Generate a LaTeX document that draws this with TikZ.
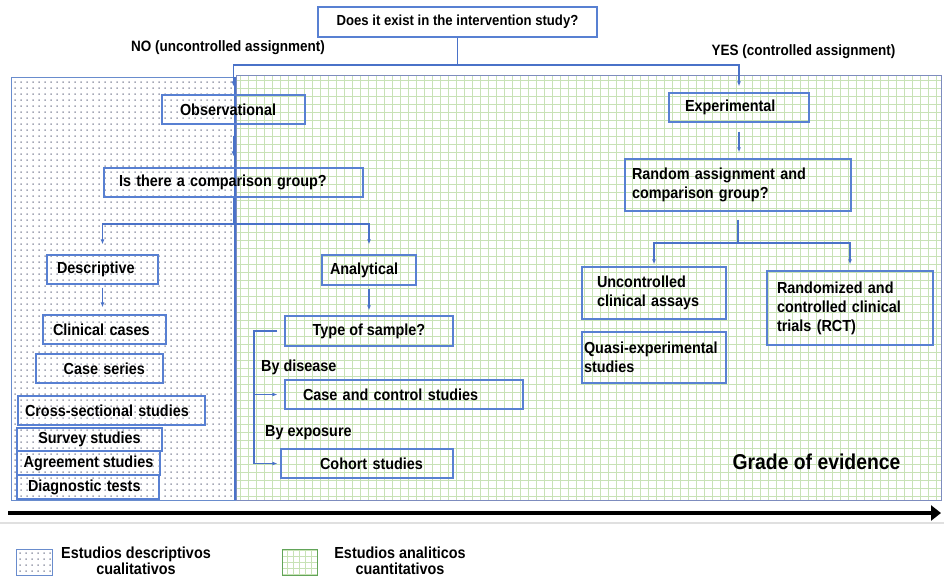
\documentclass[tikz,border=0pt]{standalone}
\usepackage{fontspec}
\setmainfont{Liberation Sans}[FakeStretch=0.9]
\usetikzlibrary{arrows.meta}
\definecolor{boxblue}{RGB}{88,128,210}
\definecolor{lineblue}{RGB}{74,114,200}
\definecolor{regblue}{RGB}{105,140,205}
\definecolor{reggreen}{RGB}{125,140,190}
\definecolor{gridgreen}{RGB}{200,226,182}
\definecolor{dotgray}{RGB}{165,168,182}
\newcommand\fsbox{\fontsize{16}{19.5}\selectfont\bfseries}
\newcommand\fstop{\fontsize{14.6}{18}\selectfont\bfseries}
\newcommand\fslab{\fontsize{15}{18}\selectfont\bfseries}
\newcommand\fsleg{\fontsize{16}{16}\selectfont\bfseries}
\newcommand\fsgrade{\fontsize{21.5}{24}\selectfont\bfseries}
\tikzset{
  box/.style={draw=boxblue, line width=1.25pt, inner ysep=0pt, inner xsep=0pt, font=\fsbox},
  lab/.style={inner sep=0pt, font=\fslab},
  sublab/.style={inner sep=0pt, font=\fsbox, anchor=west},
  conn/.style={draw=lineblue, line width=1.1pt},
  arr/.style={conn, -{Latex[length=5pt,width=4pt]}},
}
\begin{document}
\begin{tikzpicture}[x=1pt,y=-1pt]
\useasboundingbox (0,0) rectangle (944,579);
% regions
\fill[dotgray] \foreach \x in {15,21,...,231} {\foreach \y in {82,88,...,496} {(\x-0.75,\y-0.75) rectangle (\x+0.75,\y+0.75)}};
\begin{scope}
\clip (236,75) rectangle (941,500);
\draw[gridgreen, line width=0.55pt, step=8pt] (236,75) grid (941,500);
\end{scope}
\draw[reggreen, line width=1pt] (236,75) rectangle (941,500);
\draw[regblue, line width=1pt] (11,77) rectangle (235,500);
\draw[lineblue, line width=1.4pt] (235,77) -- (235,500);

% boxes
\node[box, font=\fstop, minimum width=279pt, minimum height=30pt] (top) at (457.5,22) {Does it exist in the intervention study?};
\node[lab] (no) at (228,48) {NO (uncontrolled assignment)};
\node[lab] (yes) at (803.5,52) {YES (controlled assignment)};

\node[box, align=left, inner xsep=18pt, text width=107pt, minimum height=29pt] (obs) at (233.5,109.5) {Observational};
\node[box, align=left, inner xsep=15pt, text width=229pt, minimum height=29pt] (comp) at (233.5,182.5) {Is there a comparison group?};

\node[box, align=left, inner xsep=10pt, text width=91pt, minimum height=29pt] (desc) at (102.5,269.5) {Descriptive};
\node[box, align=left, inner xsep=10pt, text width=103pt, minimum height=29pt] (clin) at (104.5,329.5) {Clinical cases};
\node[box, align=right, inner xsep=18pt, text width=91pt, minimum height=29pt] (cser) at (99.5,368.5) {Case series};
\node[box, align=left, inner xsep=7pt, text width=173pt, minimum height=29pt] (cross) at (111.5,410.5) {Cross-sectional studies};
\node[box, minimum width=145pt, minimum height=23pt] (surv) at (89.5,439.5) {Survey studies};
\node[box, minimum width=143pt, minimum height=24pt] (agree) at (88.5,463) {Agreement studies};
\node[box, align=left, inner xsep=11pt, text width=120pt, minimum height=24pt] (diag) at (88,487) {Diagnostic tests};

\node[box, align=left, inner xsep=8pt, text width=78pt, minimum height=30pt] (anal) at (369,270) {Analytical};
\node[box, minimum width=168pt, minimum height=30pt] (type) at (369,331) {Type of sample?};
\node[box, align=left, inner xsep=18pt, text width=202pt, minimum height=29pt] (cc) at (404,394.5) {Case and control studies};
\node[box, align=right, inner xsep=30pt, text width=112pt, minimum height=29pt] (coh) at (367,463.5) {Cohort studies};
\node[sublab] (bydis) at (261,367) {By disease};
\node[sublab] (byexp) at (265,433) {By exposure};

\node[box, align=left, inner xsep=16pt, text width=108pt, minimum height=29pt] (exp) at (739,107.5) {Experimental};
\node[box, align=left, inner xsep=7pt, text width=212pt, minimum height=52pt] (rand) at (738,185) {Random assignment and\\comparison group?};
\node[box, align=left, inner xsep=15pt, text width=114pt, minimum height=52pt] (unc) at (654,293) {Uncontrolled\\clinical assays};
\node[box, align=left, inner xsep=2pt, text width=140pt, minimum height=51pt] (quasi) at (654,357.5) {\mbox{Quasi-experimental}\\studies};
\node[box, align=left, inner xsep=10pt, text width=146pt, minimum height=74pt, font=\fontsize{16}{19}\selectfont\bfseries] (rct) at (850,308) {Randomized and\\controlled clinical\\trials (RCT)};

\node[inner sep=0pt, font=\fsgrade] (grade) at (816.5,462) {Grade of evidence};

% connectors
\coordinate (jn) at (457.5,65);
\draw[conn] (top.south) -- (jn);
\draw[arr, shorten >=8pt] (jn) -| (obs.north);
\draw[arr, shorten >=6pt] (jn) -| (exp.north);
\draw[arr, shorten <=11pt, shorten >=11pt] (obs.south) -- (obs.south |- comp.north);

\coordinate (cj) at (233.5,224);
\draw[conn] (comp.south) -- (cj);
\draw[arr, shorten >=10pt] (cj) -| (desc.north);
\draw[arr, shorten >=10pt] (cj) -| (anal.north);
\draw[arr, shorten <=3pt, shorten >=7pt] (desc.south) -- (desc.south |- clin.north);
\draw[arr, shorten <=3pt, shorten >=5pt] (anal.south) -- (anal.south |- type.north);

\coordinate (bx) at (254,331);
\draw[conn] ([xshift=-7pt]type.west) -| (bx |- coh.west);
\draw[arr, shorten >=7pt] (bx |- cc.west) -- (cc.west);
\draw[arr, shorten >=3pt] (bx |- coh.west) -- (coh.west);

\draw[arr, shorten <=9pt, shorten >=6pt] (exp.south) -- (exp.south |- rand.north);
\coordinate (rj) at (738,243);
\draw[conn, shorten <=8pt] (rand.south) -- (rj);
\draw[arr, shorten >=2pt] (rj) -| (unc.north);
\draw[arr, shorten >=6pt] (rj) -| (rct.north);

% grade arrow
\coordinate (ga) at (8,513);
\coordinate (gb) at (941,513);
\draw[line width=4pt, -{Triangle[length=10pt,width=15pt]}] (ga) -- (gb);
\draw[black!12, line width=1.5pt] (0,523) -- (944,523);

% legend
\node[draw=regblue, line width=1pt, minimum width=36pt, minimum height=26pt, inner sep=0pt,
  path picture={\fill[dotgray] \foreach \x in {4,10,...,34} {\foreach \y in {4,10,...,24} {([xshift=\x pt, yshift=\y pt]path picture bounding box.south west) ++(-0.75pt,-0.75pt) rectangle ++(1.5pt,1.5pt)}};}] (lgd) at (34,562) {};
\node[draw=gridgreen!70!green!70!black, line width=1pt, minimum width=35pt, minimum height=26pt, inner sep=0pt,
  path picture={\draw[gridgreen, line width=0.6pt, step=6pt] (path picture bounding box.south west) grid (path picture bounding box.north east);}] (lgg) at (299.5,562) {};
\node[inner sep=0pt, align=center, font=\fsleg] (lgdt) at (136,561) {Estudios descriptivos\\cualitativos};
\node[inner sep=0pt, align=center, font=\fsleg] (lggt) at (400,561) {Estudios analiticos\\cuantitativos};
\end{tikzpicture}
\end{document}
